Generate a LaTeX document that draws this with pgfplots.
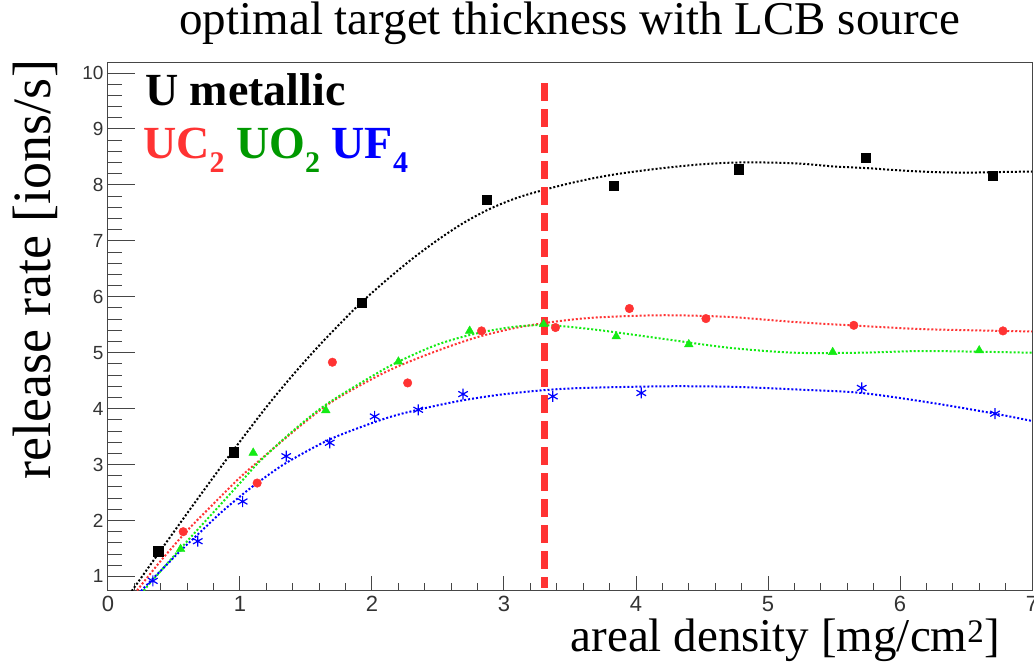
\documentclass[border=0pt]{standalone}
\usepackage{fontspec}
\setmainfont{Liberation Serif}
\setsansfont{Liberation Sans}
\usepackage{pgfplots}
\pgfplotsset{compat=1.18}

\definecolor{rred}{RGB}{255,51,51}
\definecolor{rgreen}{RGB}{20,235,20}
\definecolor{dgreen}{RGB}{0,153,0}
\definecolor{rblue}{RGB}{0,0,255}
\definecolor{frame}{RGB}{70,70,70}

\newcommand\sub[1]{\raisebox{-0.32em}{\fontsize{30}{30}\selectfont #1}}

\begin{document}
\begin{tikzpicture}
\path[use as bounding box] (-108pt,-77pt) rectangle (926pt,591pt);
\begin{axis}[
  at={(0pt,0pt)}, anchor=south west,
  scale only axis, width=924pt, height=528pt,
  xmin=0, xmax=7, ymin=0.74, ymax=10.18,
  axis line style={frame, line width=1pt},
  tick align=inside,
  xtick pos=lower, ytick pos=left,
  xtick={0,...,7}, ytick={1,...,10},
  minor x tick num=4, minor y tick num=4,
  x tick style={frame, line width=1pt, /pgfplots/major tick length=15pt, /pgfplots/minor tick length=8pt},
  y tick style={frame, line width=1pt, /pgfplots/major tick length=27pt, /pgfplots/minor tick length=14pt},
  /pgf/number format/assume math mode=true,
  xticklabel style={font=\sffamily\fontsize{22}{22}\selectfont, text=black!80, yshift=-2pt},
  yticklabel style={font=\sffamily\fontsize{19}{19}\selectfont, text=black!80, xshift=-1pt},
  title={optimal target thickness with LCB source},
  title style={font=\fontsize{47}{47}\selectfont, at={(axis description cs:0.5,1)}, anchor=base, yshift=22pt, inner sep=0pt},
  xlabel={areal density [mg/cm\textsuperscript{2}]},
  xlabel style={font=\fontsize{47}{47}\selectfont, at={(axis description cs:0.733,-0.1155)}, anchor=base, inner sep=0pt},
  ylabel={release rate [ions/s]},
  ylabel style={font=\fontsize{54}{54}\selectfont, at={(axis description cs:-0.079,0.608)}, anchor=center, inner sep=0pt},
  clip=true,
]

% fitted trend curves
\addplot[black, line width=2pt, dash pattern=on 2pt off 2pt, smooth, tension=0.5] coordinates {
 (0.18,0.74) (0.4,1.47) (0.6,2.13) (0.8,2.78) (0.97,3.32) (1.2,4.03) (1.4,4.60)
 (1.6,5.13) (1.8,5.62) (1.92,5.90) (2.1,6.28) (2.3,6.67) (2.5,7.02) (2.7,7.33)
 (2.9,7.58) (3.1,7.77) (3.3,7.91) (3.5,8.03) (3.7,8.13) (3.9,8.21) (4.2,8.30)
 (4.5,8.37) (4.75,8.40) (5.0,8.40) (5.25,8.38) (5.5,8.33) (5.75,8.30) (6.0,8.26)
 (6.25,8.23) (6.5,8.22) (6.75,8.23) (7.0,8.24)};
\addplot[rred, line width=2pt, dash pattern=on 2pt off 2pt, smooth, tension=0.5] coordinates {
 (0.22,0.75) (0.4,1.28) (0.6,1.82) (0.8,2.30) (1.0,2.77) (1.15,3.08) (1.45,3.68)
 (1.7,4.13) (2.0,4.53) (2.2,4.76) (2.5,5.04) (2.8,5.28) (3.1,5.45) (3.4,5.56)
 (3.7,5.63) (4.2,5.67) (4.7,5.64) (5.2,5.55) (5.7,5.48) (6.2,5.42) (7.0,5.38)};
\addplot[rgreen, line width=2pt, dash pattern=on 2pt off 2pt, smooth, tension=0.5] coordinates {
 (0.27,0.75) (0.55,1.50) (0.8,2.15) (1.0,2.67) (1.15,3.06) (1.4,3.60) (1.65,4.07)
 (2.0,4.58) (2.2,4.84) (2.5,5.15) (2.8,5.35) (3.1,5.47) (3.35,5.49) (3.7,5.41)
 (4.2,5.25) (4.7,5.09) (5.2,5.00) (5.7,5.00) (6.2,5.03) (7.0,5.00)};
\addplot[rblue, line width=2pt, dash pattern=on 2pt off 2pt, smooth, tension=0.5] coordinates {
 (0.25,0.74) (0.34,0.96) (0.55,1.46) (0.68,1.75) (0.85,2.13) (1.0,2.43) (1.13,2.67)
 (1.35,3.03) (1.68,3.45) (2.02,3.76) (2.21,3.90) (2.46,4.04) (2.69,4.15) (2.97,4.25)
 (3.30,4.33) (3.60,4.37) (4.23,4.40) (4.74,4.39) (5.24,4.34) (5.71,4.28) (6.25,4.10)
 (6.72,3.91) (7.0,3.78)};

% optimum thickness
\addplot[rred, line width=7.5pt, dash pattern=on 18pt off 8pt] coordinates {(3.305,9.82) (3.305,0.80)};

% measured release rates
\addplot[only marks, mark=square*, mark size=4.6pt, black] coordinates {
 (0.38,1.45) (0.955,3.22) (1.92,5.90) (2.87,7.74) (3.83,7.99) (4.78,8.28) (5.74,8.49) (6.70,8.17)};
\addplot[only marks, mark=*, mark size=4.3pt, rred] coordinates {
 (0.57,1.80) (1.13,2.67) (1.70,4.83) (2.27,4.46) (2.83,5.39) (3.39,5.45) (3.95,5.79)
 (4.53,5.61) (5.65,5.49) (6.78,5.39)};
\addplot[only marks, mark=triangle*, mark size=5pt, rgreen] coordinates {
 (0.55,1.49) (1.10,3.21) (1.65,3.97) (2.20,4.84) (2.74,5.39) (3.30,5.51) (3.85,5.29)
 (4.40,5.15) (5.49,5.01) (6.60,5.04)};
\addplot[only marks, mark=asterisk, mark size=5.5pt, rblue, mark options={line width=1.2pt}] coordinates {
 (0.34,0.92) (0.68,1.63) (1.02,2.34) (1.35,3.15) (1.68,3.39) (2.02,3.86) (2.35,3.98)
 (2.69,4.26) (3.37,4.22) (4.04,4.28) (5.71,4.37) (6.72,3.91)};

% labels
\node[anchor=base west, inner sep=0pt, font=\bfseries\fontsize{46}{46}\selectfont]
  at (axis description cs:0.040,0.920) {U metallic};
\node[anchor=base west, inner sep=0pt, font=\bfseries\fontsize{46}{46}\selectfont]
  at (axis description cs:0.038,0.820)
  {\textcolor{rred}{UC\sub{2}} \textcolor{dgreen}{UO\sub{2}} \textcolor{rblue}{UF\sub{4}}};
\node[anchor=south west, inner sep=0pt, font=\sffamily\fontsize{15}{15}\selectfont, text=black!80]
  at (axis description cs:0,1) {×10\textsuperscript{6}};
\end{axis}
\end{tikzpicture}
\end{document}
